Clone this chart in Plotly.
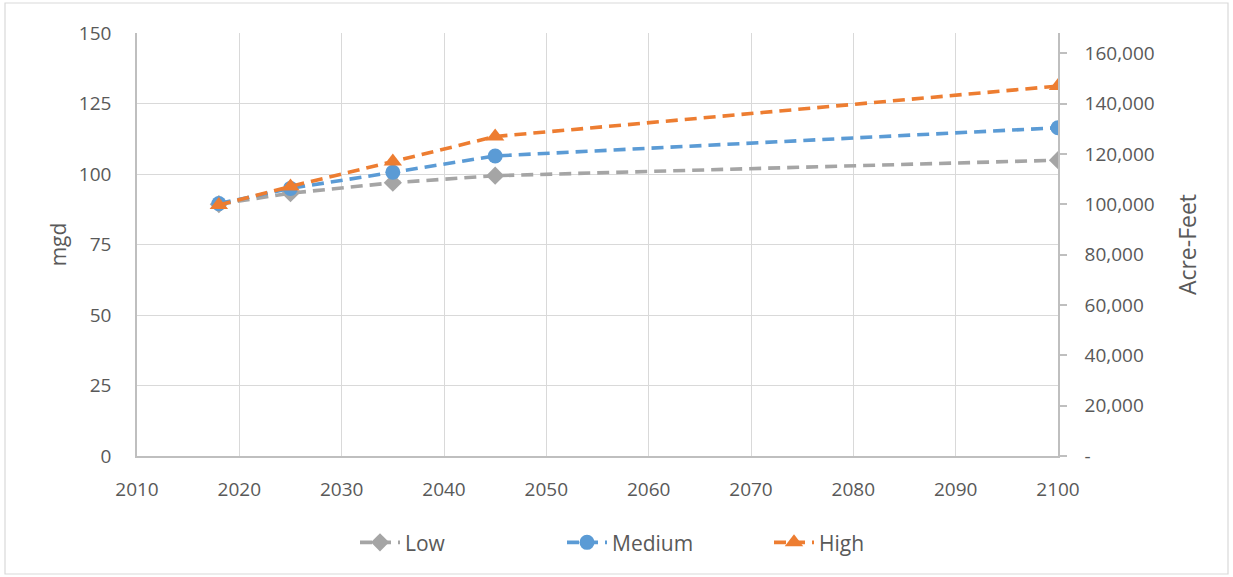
import plotly.graph_objects as go

years = [2018, 2025, 2035, 2045, 2100]
low = [89.3, 93.2, 96.9, 99.4, 104.9]
medium = [89.5, 94.9, 100.6, 106.4, 116.4]
high = [89.0, 95.6, 104.4, 113.3, 131.2]
af_per_mgd = 1120
x_ticks = list(range(2010, 2101, 10))
left_ticks = [0, 25, 50, 75, 100, 125, 150]
right_ticks = [0, 20000, 40000, 60000, 80000, 100000, 120000, 140000, 160000]
right_text = ["-"] + [f"{v:,}" for v in right_ticks[1:]]

FONT = "Open Sans"
TXT = "#595959"

fig = go.Figure()
series = [
    ("Low", low, "#A5A5A5", "diamond", 14),
    ("Medium", medium, "#5B9BD5", "circle", 15),
    ("High", high, "#ED7D31", "triangle-up", 16),
]
for name, vals, col, sym, sz in series:
    fig.add_trace(go.Scatter(
        x=years, y=vals, name=name, mode="lines+markers",
        line=dict(color=col, width=3.6, dash="12px,7px"),
        marker=dict(symbol=sym, size=sz, color=col),
    ))
# secondary axis trace (invisible) to show Acre-Feet scale
fig.add_trace(go.Scatter(
    x=years, y=[v * af_per_mgd for v in high], yaxis="y2",
    mode="lines", line=dict(width=0, color="rgba(0,0,0,0)"),
    showlegend=False, hoverinfo="skip",
))

fig.update_layout(
    width=1233, height=577,
    margin=dict(l=137, r=175, t=33, b=121),
    paper_bgcolor="white", plot_bgcolor="white",
    font=dict(family=FONT, color=TXT, size=19),
    xaxis=dict(
        range=[2010, 2100], tickvals=x_ticks, showgrid=True,
        gridcolor="#D9D9D9", gridwidth=1.3, showline=True,
        linecolor="#BFBFBF", linewidth=1.5, zeroline=False,
        ticks="", ticklabelstandoff=15, tickfont=dict(size=19),
    ),
    yaxis=dict(
        range=[0, 150], tickvals=left_ticks, showgrid=True,
        gridcolor="#D9D9D9", gridwidth=1.3, showline=True,
        linecolor="#BFBFBF", linewidth=1.5, zeroline=False,
        ticks="", ticklabelstandoff=20, tickfont=dict(size=19),
        title=dict(text="mgd", font=dict(size=21), standoff=7),
    ),
    yaxis2=dict(
        overlaying="y", side="right", range=[0, 150 * af_per_mgd],
        tickvals=right_ticks, ticktext=right_text, showgrid=False,
        showline=True, linecolor="#BFBFBF", linewidth=1.5, zeroline=False,
        ticks="outside", ticklen=7, tickcolor="#BFBFBF", tickwidth=1.5,
        ticklabelstandoff=14, tickfont=dict(size=19),
        title=dict(text="Acre-Feet", font=dict(size=23), standoff=26),
    ),
    legend=dict(
        orientation="h", x=(355 - 137) / 921, xanchor="left", y=-0.205, yanchor="middle",
        font=dict(size=21), entrywidth=152, entrywidthmode="pixels",
        itemwidth=40,
    ),
    shapes=[dict(
        type="rect", xref="paper", yref="paper",
        x0=(5 - 137) / 921, x1=(1228 - 137) / 921,
        y0=(456 - 574) / 423, y1=(456 - 3) / 423,
        line=dict(color="#D9D9D9", width=1.2), fillcolor="rgba(0,0,0,0)", layer="below",
    )],
)

fig.write_html("out.html", config={"displayModeBar": False},
               post_script="document.body.style.margin='0';")
